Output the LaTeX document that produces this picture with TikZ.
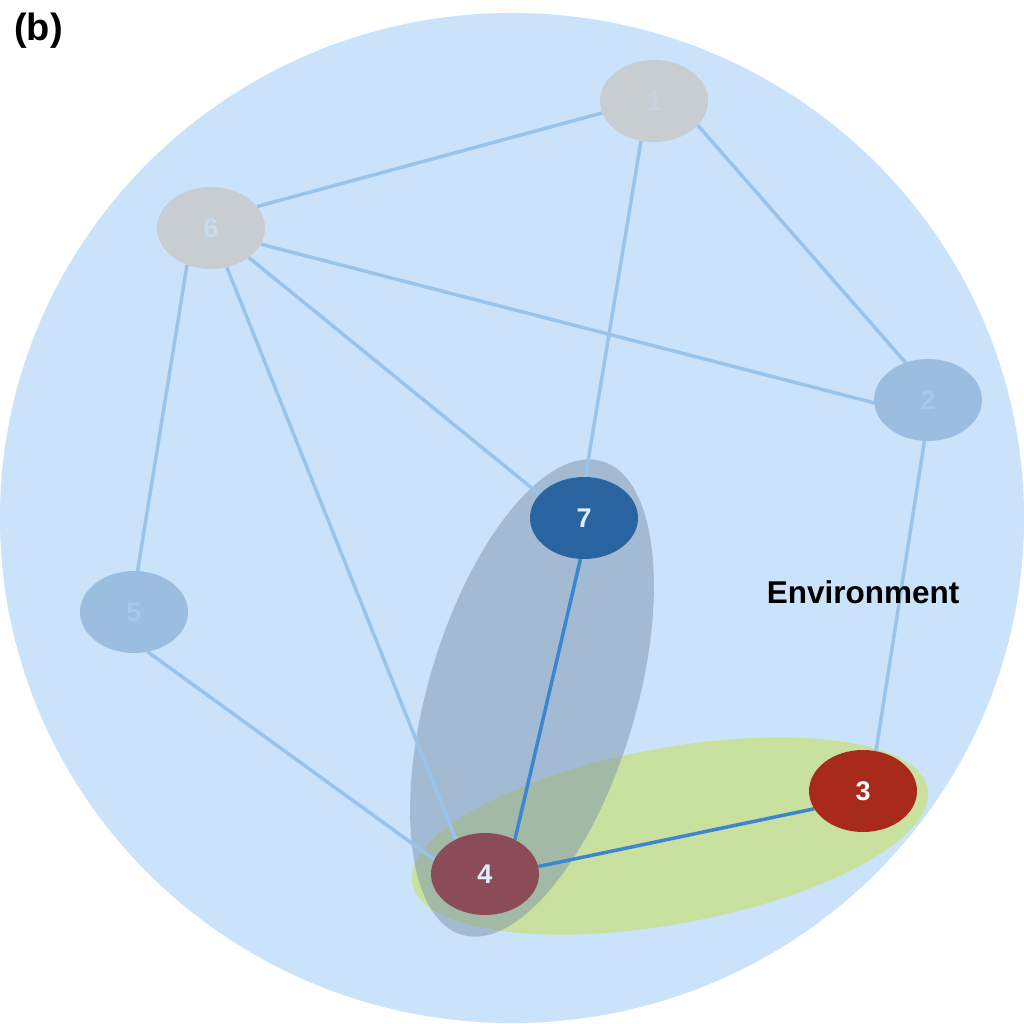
\documentclass[tikz,border=0pt]{standalone}
\usepackage{fontspec}
\setmainfont{Liberation Sans}
\usetikzlibrary{shapes.geometric}
\definecolor{envblue}{HTML}{CAE3FB}
\definecolor{linkblue}{HTML}{98C4EB}
\definecolor{strongblue}{HTML}{3C86D0}
\definecolor{fadegray}{HTML}{C8CDD2}
\definecolor{fadeblue}{HTML}{9ABDE0}
\definecolor{coreblue}{HTML}{2A64A0}
\definecolor{corered}{HTML}{8B4C58}
\definecolor{hotred}{HTML}{A82A1A}
\definecolor{groupgray}{HTML}{7E93AD}
\definecolor{groupgreen}{HTML}{C8E063}
\pgfdeclarelayer{back}
\pgfdeclarelayer{links}
\pgfsetlayers{back,links,main}

\begin{document}
\begin{tikzpicture}[x=1pt,y=-1pt,
  vertex/.style={ellipse,minimum width=108pt,minimum height=82pt,inner sep=0pt,
    font=\fontsize{27}{27}\selectfont\bfseries},
  link/.style={line width=3.5pt,draw=linkblue},
  strong/.style={line width=3.5pt,draw=strongblue}]
\begin{pgfonlayer}{back}
  \useasboundingbox[fill=white] (0,0) rectangle (1024,1024);
  \fill[envblue] (512,518) ellipse (512 and 505);
  % the two groups
  \fill[groupgreen,opacity=0.6,shift={(670,836)},rotate=10.4] (0,0) ellipse (262 and 88);
  \fill[groupgray,opacity=0.5,shift={(532,698)},rotate=73.5] (0,0) ellipse (247 and 104);
\end{pgfonlayer}

\node[vertex,fill=fadegray,text=fadegray!70!envblue] (n1) at (654,101) {1};
\node[vertex,fill=fadegray,text=fadegray!30!envblue] (n6) at (211,228) {6};
\node[vertex,fill=fadeblue,text=fadeblue!70!envblue] (n2) at (928,400) {2};
\node[vertex,fill=fadeblue,text=fadeblue!70!envblue] (n5) at (134,612) {5};
\node[vertex,fill=coreblue,text=envblue!60!white] (n7) at (584,518) {7};
\node[vertex,fill=corered,text=envblue!60!white] (n4) at (485,874) {4};
\node[vertex,fill=hotred,text=white] (n3) at (863,791) {3};

\begin{pgfonlayer}{links}
  \foreach \a/\b in {n6.25/n1.193, n1.252/n7.88, n1.331/n2.121, n6.342/n2.183,
      n6.322/n7.152, n6.292/n4.130, n6.237/n5.85, n5.289/n4.164, n2.265/n3.72}
    \draw[link] (\a) -- (\b);
  \draw[strong] (n7.265) -- (n4.49);
  \draw[strong] (n4.8) -- (n3.200);
\end{pgfonlayer}

\node[font=\fontsize{31.5}{31.5}\selectfont\bfseries] (env) at (863,592) {Environment};
\node[font=\fontsize{38}{38}\selectfont\bfseries,anchor=west,inner sep=0pt] (tag) at (14,31) {(b)};
\end{tikzpicture}
\end{document}
